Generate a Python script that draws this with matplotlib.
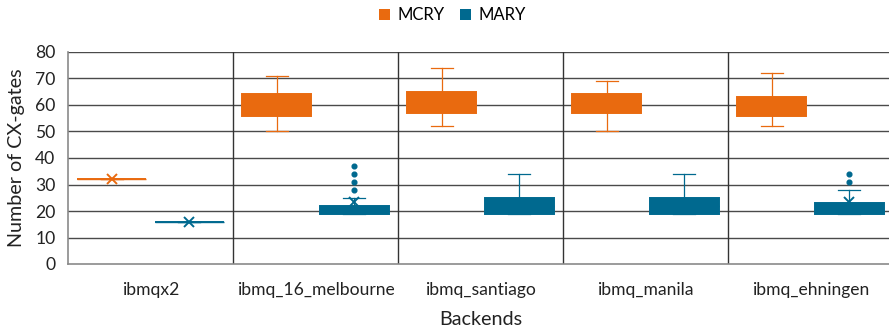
import matplotlib
matplotlib.use("Agg")
import matplotlib.pyplot as plt
from matplotlib.patches import Patch

plt.rcParams['font.family'] = ['Lato', 'DejaVu Sans']

backends = ["ibmqx2", "ibmq_16_melbourne", "ibmq_santiago", "ibmq_manila", "ibmq_ehningen"]

# five-number summaries (whisker low, Q1, median, Q3, whisker high), means and outliers
mcry_whislo = [32, 50, 52, 50, 52]
mcry_q1 = [32, 56, 57, 57, 56]
mcry_med = [32, 60, 61, 61, 60]
mcry_q3 = [32, 64, 65, 64, 63]
mcry_whishi = [32, 71, 74, 69, 72]
mcry_mean = [32, 60, 61, 60.5, 60]
mcry_fliers = [[], [], [], [], []]

mary_whislo = [16, 19, 19, 19, 19]
mary_q1 = [16, 19, 19, 19, 19]
mary_med = [16, 20, 22, 22, 20]
mary_q3 = [16, 22, 25, 25, 23]
mary_whishi = [16, 25, 34, 34, 28]
mary_mean = [16, 23.4, 22, 22, 23.4]
mary_fliers = [[], [28, 31, 34, 37], [], [], [31, 34]]

ORANGE = "#E96A0F"
BLUE = "#00698F"


def make_stats(lo, q1, med, q3, hi, mean, fl):
    return [dict(whislo=a, q1=b, med=c, q3=d, whishi=e, mean=f, fliers=g)
            for a, b, c, d, e, f, g in zip(lo, q1, med, q3, hi, mean, fl)]


fig = plt.figure(figsize=(8.89, 3.34), dpi=100)
ax = fig.add_axes([68 / 889, 70 / 334, 825 / 889, 212 / 334])

offset = 0.235
width = 0.42
centers = [i + 0.5 for i in range(len(backends))]

for stats, color, shift in [
    (make_stats(mcry_whislo, mcry_q1, mcry_med, mcry_q3, mcry_whishi, mcry_mean, mcry_fliers), ORANGE, -offset),
    (make_stats(mary_whislo, mary_q1, mary_med, mary_q3, mary_whishi, mary_mean, mary_fliers), BLUE, offset),
]:
    ax.bxp(stats, positions=[c + shift for c in centers], widths=width,
           patch_artist=True, showmeans=True, showfliers=True,
           capwidths=0.135,
           boxprops=dict(facecolor=color, edgecolor=color, linewidth=1.4),
           medianprops=dict(color=color, linewidth=1),
           whiskerprops=dict(color=color, linewidth=0.9),
           capprops=dict(color=color, linewidth=0.9),
           meanprops=dict(marker='x', markeredgecolor=color, markersize=7, markeredgewidth=1.4),
           flierprops=dict(marker='o', markerfacecolor=color, markeredgecolor=color, markersize=3.4),
           zorder=3)

ax.set_xlim(0, len(backends))
ax.set_ylim(0, 80)
ax.set_yticks(range(0, 81, 10))
ax.set_xticks(centers)
ax.set_xticklabels(backends)
ax.tick_params(axis='both', length=0, labelsize=12.6, colors="#222222")
ax.tick_params(axis='x', pad=13)
ax.tick_params(axis='y', pad=9)

for y in range(10, 81, 10):
    ax.axhline(y, color="#4a4a4a", linewidth=1.0, zorder=1)
for x in range(1, len(backends)):
    ax.axvline(x, color="#333333", linewidth=1.0, zorder=1)

for side in ['top', 'right']:
    ax.spines[side].set_visible(False)
ax.spines['left'].set_color("#8a8a8a")
ax.spines['bottom'].set_color("#8a8a8a")
ax.spines['left'].set_linewidth(1.2)
ax.spines['bottom'].set_linewidth(1.2)

ax.set_ylabel("Number of CX-gates", fontsize=14.2, color="#222222", labelpad=7)
ax.set_xlabel("Backends", fontsize=14.2, color="#222222", labelpad=9)

handles = [Patch(facecolor=ORANGE, edgecolor='none', label="MCRY"),
           Patch(facecolor=BLUE, edgecolor='none', label="MARY")]
fig.legend(handles=handles, loc='center', bbox_to_anchor=(0.509, 0.955), ncol=2,
           frameon=False, fontsize=12, handlelength=0.65, handleheight=0.65,
           handletextpad=0.45, columnspacing=0.9)

fig.savefig("out.png", dpi=100)
